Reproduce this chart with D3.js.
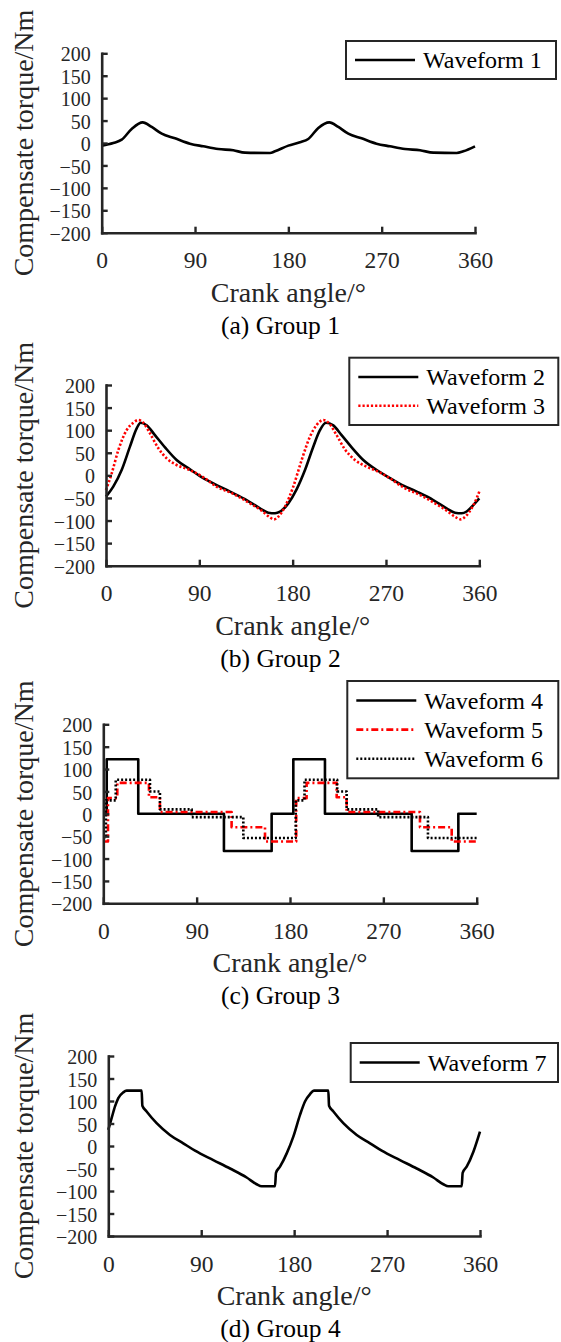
<!DOCTYPE html>
<html>
<head>
<meta charset="utf-8">
<script src="https://cdn.jsdelivr.net/npm/d3@7"></script>
<style>
  html, body { margin: 0; padding: 0; background: #fff; }
  svg { display: block; }
</style>
</head>
<body>
<svg id="fig" width="561" height="1342"></svg>
<script>
// ---- shared axis ticks ----
const angleTicks = [0, 90, 180, 270, 360];
const torqueTicks = [-200, -150, -100, -50, 0, 50, 100, 150, 200];

// ---- Group 1 ----
const wave1Angle = [0, 11.2, 19.3, 28.9, 39.5, 48.2, 57.9, 70.7, 85.1, 98, 112.4, 126.9, 138.2, 162.3, 167.1,
  180, 191.2, 199.2, 208.9, 219.5, 228.2, 237.8, 250.6, 265, 278, 292.5, 307, 319.8, 342.3, 348.7, 360];
const wave1Torque = [-5.9, 0, 7.4, 31.2, 46, 35.7, 20.8, 10.4, -1.5, -7.4, -13.4, -16.3, -21.5, -22.3, -18.6,
  -5.9, 1.5, 8.9, 33.4, 46, 35.7, 20.8, 10.4, -1.5, -7.4, -13.4, -16.3, -21.5, -22.3, -18.6, -7.4];

// ---- Group 2 ----
const wave2Angle = [0, 7, 15.1, 23.1, 29.6, 33.4, 39.2, 47.2, 56.9, 68.1, 81, 90.6, 103.5, 119.6, 135.6, 148.5,
  156.5, 163, 167.8, 175.8, 183.8, 191.9, 199.9, 206.3, 212.1, 219.2, 227.2, 236.9, 248.1, 261, 270.6, 283.5,
  299.6, 315.6, 328.5, 336.5, 343, 347.8, 354.2, 360];
const wave2Torque = [-47, -25, 11.8, 63.5, 104, 116.6, 111, 89, 62, 34, 13.3, -1.5, -17.7, -36, -54.6, -73,
  -82.7, -84, -80.4, -62, -31, 11.8, 63.5, 100, 116.6, 110.7, 89, 62, 34, 11.8, -1.5, -19,
  -36, -54.6, -73, -82.7, -84, -80, -65.7, -51];
const wave3Angle = [0, 5.5, 11.9, 19.9, 26.4, 31.2, 36, 42.4, 50.5, 58.5, 68.1, 81, 93.9, 106.7, 122.8, 138.8,
  150, 158.1, 162, 166.2, 172.6, 180.6, 188.7, 196.7, 203.1, 209.6, 215.3, 222.4, 230.4, 240.1, 251.3, 262.6,
  273.8, 286.7, 302.8, 317.2, 328.5, 336.5, 342, 347.1, 352.6, 357.4, 360];
const wave3Torque = [-32.5, 4.4, 56, 100, 116.6, 122.5, 116.6, 93, 60, 37.6, 22.9, 11.8, -4.4, -25, -41, -62,
  -78, -93, -97.4, -91.5, -69.4, -25, 34, 85.6, 111.4, 122.5, 115, 89, 57.6, 34, 19.2, 8.1,
  -6.6, -26.6, -43.5, -62, -78, -91.5, -97.4, -90, -73, -51, -36];

// ---- Group 3 (stepped: each level holds until the next angle) ----
const wave4Angle = [0, 3.3, 33.7, 116.3, 162.3, 183.2, 213.7, 297.3, 342.3, 360];
const wave4Torque = [0, 122, 0, -83, 0, 122, 0, -83, 0, 0];
const wave5Angle = [0, 4.5, 13.5, 44, 54.6, 123.7, 155.9, 186, 196, 225, 234.6, 305.3, 335.9, 360];
const wave5Torque = [-62, 35, 69, 37, 4, -30, -62, 35, 69, 37, 4, -30, -62, -62];
const wave6Angle = [0, 2.5, 12, 45, 54.6, 85.2, 135, 185.5, 194, 225.5, 234.6, 265, 313, 360];
const wave6Torque = [-54, 30, 76, 50, 10, -7.5, -54, 30, 76, 50, 10, -7.5, -54, -54];

// ---- Group 4 ----
const wave7Angle = [0, 3.2, 6.5, 9.7, 14.5, 17.8, 32.3, 33, 37.1, 46.8, 59.7, 72.6, 84, 101.7, 117.9, 134,
  143.7, 148.5, 161.5, 162.4, 166.3, 172.8, 179.2, 185.7, 190.5, 195.4, 199.2, 213.1, 213.8, 218, 227.6,
  240.6, 253.5, 264.8, 282.5, 298.7, 314.8, 324.5, 329.4, 342.3, 343.2, 347.1, 353.6, 360];
const wave7Torque = [35.8, 61.8, 88, 106.5, 119.2, 123, 123, 89.4, 76.7, 50.7, 24.6, 6, -10.4, -31.3, -50, -70,
  -85, -89.4, -89.4, -59.6, -46, -16.4, 20.9, 69.3, 99, 115.5, 123, 123, 89.4, 76.7, 50.7,
  24.6, 6, -10.4, -31.3, -50, -70, -85, -89.4, -89.4, -59.6, -46, -12.7, 32];

// ---- text ----
const xLabel = "Crank angle/\u00B0";
const yLabel = "Compensate torque/Nm";
const captions = ["(a) Group 1", "(b) Group 2", "(c) Group 3", "(d) Group 4"];

// ---- drawing ----
const FONT = "'Liberation Serif', 'Times New Roman', serif";
const AXIS_COLOR = "#262626";
const svg = d3.select("#fig");
svg.append("rect").attr("width", 561).attr("height", 1342).attr("fill", "#fff");

const smooth = d3.curveMonotoneX;
const step = d3.curveStepAfter;

const solidBlack = { color: "#000", dash: null };
const dottedRed = { color: "#ff0000", dash: "2.2,2" };
const dashDotRed = { color: "#ff0000", dash: "7,3,2,3" };
const dottedBlack = { color: "#000", dash: "2,2" };

const panels = [
  { left: 101.7, right: 475, top: 53.3, bottom: 232.7, caption: captions[0],
    legend: { x: 346, y: 41, w: 210, h: 38 },
    series: [{ name: "Waveform 1", a: wave1Angle, v: wave1Torque, curve: smooth, style: solidBlack }] },
  { left: 106, right: 479.3, top: 385, bottom: 565.7, caption: captions[1],
    legend: { x: 349.3, y: 357.7, w: 209, h: 67.3 },
    series: [
      { name: "Waveform 2", a: wave2Angle, v: wave2Torque, curve: smooth, style: solidBlack },
      { name: "Waveform 3", a: wave3Angle, v: wave3Torque, curve: smooth, style: dottedRed }] },
  { left: 103.3, right: 476.7, top: 724.3, bottom: 903.3, caption: captions[2],
    legend: { x: 347.3, y: 681, w: 211, h: 97.3 },
    series: [
      { name: "Waveform 4", a: wave4Angle, v: wave4Torque, curve: step, style: solidBlack },
      { name: "Waveform 5", a: wave5Angle, v: wave5Torque, curve: step, style: dashDotRed },
      { name: "Waveform 6", a: wave6Angle, v: wave6Torque, curve: step, style: dottedBlack }] },
  { left: 108.3, right: 480, top: 1056, bottom: 1236, caption: captions[3],
    legend: { x: 350.7, y: 1043, w: 207.3, h: 39 },
    series: [{ name: "Waveform 7", a: wave7Angle, v: wave7Torque, curve: smooth, style: solidBlack }] }
];

panels.forEach(p => {
  const x = d3.scaleLinear().domain([0, 360]).range([p.left, p.right]);
  const y = d3.scaleLinear().domain([-200, 200]).range([p.bottom, p.top]);
  const g = svg.append("g");

  // curves
  p.series.forEach(s => {
    const pts = d3.zip(s.a, s.v);
    g.append("path")
      .datum(pts)
      .attr("fill", "none")
      .attr("stroke", s.style.color)
      .attr("stroke-width", 2.6)
      .attr("stroke-linejoin", "round")
      .attr("stroke-dasharray", s.style.dash)
      .attr("d", d3.line().x(d => x(d[0])).y(d => y(d[1])).curve(s.curve));
  });

  // axes with inward ticks
  const xAxis = g.append("g")
    .attr("transform", `translate(0,${p.bottom})`)
    .call(d3.axisBottom(x).tickValues(angleTicks).tickSizeInner(-6).tickSizeOuter(0).tickPadding(19));
  const yAxis = g.append("g")
    .attr("transform", `translate(${p.left},0)`)
    .call(d3.axisLeft(y).tickValues(torqueTicks).tickSizeInner(-6).tickSizeOuter(0).tickPadding(11));
  [xAxis, yAxis].forEach(ax => {
    ax.select(".domain").attr("stroke", AXIS_COLOR).attr("stroke-width", 2.6).attr("stroke-linecap", "square");
    ax.selectAll(".tick line").attr("stroke", AXIS_COLOR).attr("stroke-width", 2.4);
    ax.selectAll(".tick text").attr("fill", AXIS_COLOR).style("font-family", FONT);
  });
  xAxis.selectAll(".tick text").style("font-size", "23.5px");
  yAxis.selectAll(".tick text").style("font-size", "20px").attr("dy", "0.38em");

  // axis titles
  g.append("text")
    .attr("x", (p.left + p.right) / 2)
    .attr("y", p.bottom + 69)
    .attr("text-anchor", "middle")
    .attr("fill", AXIS_COLOR)
    .style("font-family", FONT).style("font-size", "28px")
    .text(xLabel);
  g.append("text")
    .attr("transform", `translate(32.5,${(p.top + p.bottom) / 2}) rotate(-90)`)
    .attr("text-anchor", "middle")
    .attr("fill", AXIS_COLOR)
    .style("font-family", FONT).style("font-size", "28px")
    .text(yLabel);

  // caption
  g.append("text")
    .attr("x", 280.5)
    .attr("y", p.bottom + 101)
    .attr("text-anchor", "middle")
    .attr("fill", "#000")
    .style("font-family", FONT).style("font-size", "25.5px")
    .text(p.caption);

  // legend
  const L = p.legend;
  const lg = g.append("g");
  lg.append("rect")
    .attr("x", L.x).attr("y", L.y).attr("width", L.w).attr("height", L.h)
    .attr("fill", "#fff").attr("stroke", AXIS_COLOR).attr("stroke-width", 2);
  const rowH = p.series.length > 1 ? (L.h - 10) / p.series.length : L.h;
  const row0 = p.series.length > 1 ? L.y + 5 + rowH / 2 : L.y + L.h / 2;
  p.series.forEach((s, i) => {
    const ry = row0 + i * rowH;
    lg.append("line")
      .attr("x1", L.x + 9).attr("x2", L.x + 69).attr("y1", ry).attr("y2", ry)
      .attr("stroke", s.style.color).attr("stroke-width", 2.6)
      .attr("stroke-dasharray", s.style.dash);
    lg.append("text")
      .attr("x", L.x + 77).attr("y", ry + 8)
      .attr("fill", "#000")
      .style("font-family", FONT).style("font-size", "24px")
      .text(s.name);
  });
});
</script>
</body>
</html>
